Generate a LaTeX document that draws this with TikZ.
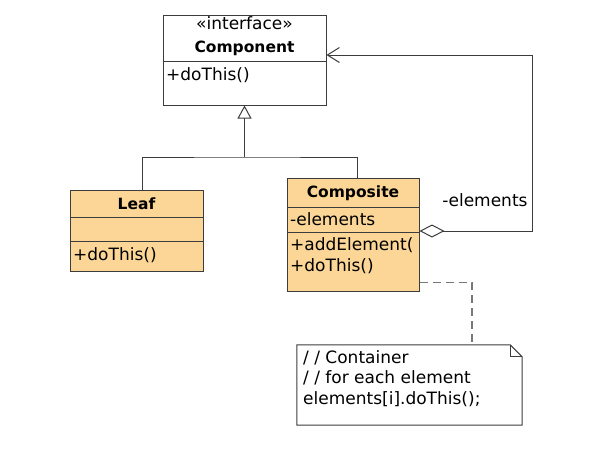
\documentclass[tikz,border=0pt]{standalone}
\usepackage{fontspec}
\setmainfont{DejaVu Sans}
\usetikzlibrary{arrows.meta}
\definecolor{classfill}{RGB}{251,214,150}
\definecolor{umlline}{RGB}{60,60,60}
\definecolor{notedash}{RGB}{120,120,120}
\tikzset{
  classbox/.style={draw=umlline,line width=1pt,inner sep=0pt},
  divider/.style={draw=umlline,line width=1pt},
  member/.style={anchor=west,inner sep=0pt,font=\fontsize{17}{20.5}\selectfont},
  classname/.style={inner sep=0pt,font=\fontsize{15.5}{18}\selectfont\bfseries},
  inherits/.style={draw=umlline,line width=1pt,-{Triangle[open,length=13pt,width=14pt]}},
  aggregates/.style={draw=umlline,line width=1pt,{Diamond[open,length=25pt,width=13pt]}-{Straight Barb[length=12pt,width=15pt]}},
  notelink/.style={draw=notedash,line width=1.1pt,dash pattern=on 8pt off 5pt},
}
\begin{document}
\begin{tikzpicture}[x=1pt,y=-1pt]
\useasboundingbox (0,0) rectangle (597,461);
% interface
\node[classbox,fill=white,minimum width=163pt,minimum height=90pt] (comp) at (244.5,60) {};
\draw[divider] ([yshift=-1pt]comp.west) -- ([yshift=-1pt]comp.east);
\node[member,anchor=center] (stereo) at (244.5,23) {«interface»};
\node[classname] (compname) at (244.5,48) {Component};
\node[member] (compop) at (166,75) {+doThis()};
% leaf
\node[classbox,fill=classfill,minimum width=133pt,minimum height=81pt] (leaf) at (136.5,230.5) {};
\draw[divider] ([yshift=13.5pt]leaf.west) -- ([yshift=13.5pt]leaf.east);
\draw[divider] ([yshift=-10.5pt]leaf.west) -- ([yshift=-10.5pt]leaf.east);
\node[classname] (leafname) at (136.5,204) {Leaf};
\node[member] (leafop) at (73,255) {+doThis()};
% composite
\node[classbox,fill=classfill,minimum width=132pt,minimum height=113pt] (composite) at (353,234.5) {};
\draw[divider] ([yshift=27.5pt]composite.west) -- ([yshift=27.5pt]composite.east);
\draw[divider] ([yshift=2.5pt]composite.west) -- ([yshift=2.5pt]composite.east);
\begin{scope}
  \clip (composite.north west) rectangle (composite.south east);
  \node[classname] (compositename) at (353,193) {Composite};
  \node[member] (field) at (290,219) {-elements};
  \node[member] (addop) at (290,245) {+addElement(};
  \node[member] (doop) at (290,266) {+doThis()};
\end{scope}
% note
\node[inner sep=0pt,minimum width=225pt,minimum height=80pt] (note) at (409.5,385) {};
\draw[umlline,line width=1pt,fill=white] (note.north west) -- ([xshift=-12pt]note.north east)
  -- ([yshift=-12pt]note.north east) -- (note.south east) -- (note.south west) -- cycle;
\draw[umlline,line width=1pt] ([xshift=-12pt]note.north east) |- ([yshift=-12pt]note.north east);
\node[member,anchor=north west,align=left] (notetext) at (303,350)
  {/ / Container\\/ / for each element\\elements[i].doThis();};
% connectors
\coordinate (joint) at (244.5,157);
\draw[divider] ([xshift=5.5pt]leaf.north) |- (joint) -| ([xshift=4.5pt]composite.north);
\draw[inherits] (joint) -- (comp.south);
\draw[aggregates] ([yshift=3.5pt]composite.east) -| (532,55) -- ([yshift=5pt]comp.east);
\node[member,anchor=center] (rolename) at (485,200) {-elements};
\draw[notelink] ([yshift=9pt]composite.south east) -| ([xshift=62.5pt]note.north);
\end{tikzpicture}
\end{document}
